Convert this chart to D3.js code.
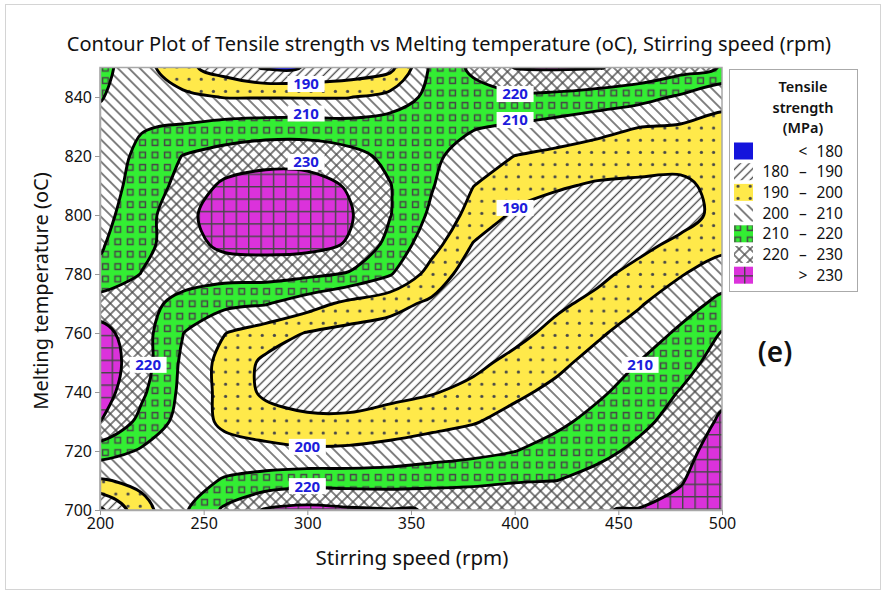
<!DOCTYPE html>
<html>
<head>
<meta charset="utf-8">
<script src="https://cdn.jsdelivr.net/npm/d3@7/dist/d3.min.js"></script>
<style>
  body { margin: 0; background: #fff; }
  text { font-family: 'Noto Sans', 'Open Sans', sans-serif; }
</style>
</head>
<body>
<div id="chart"></div>
<script>
// surface: one row per melting temperature, one column per stirring speed
const speeds = [200, 220, 240, 260, 280, 300, 320, 340, 360, 380, 400, 420, 440, 460, 480, 500]
const temps = [850, 840, 830, 820, 810, 800, 790, 780, 770, 760, 750, 740, 730, 720, 710, 700]
const strength = [
  [213, 204, 192.5, 185.6, 179, 180.2, 183, 187, 212, 222, 230.3, 231, 230.4, 228, 224, 219.5],
  [210.6, 204.5, 202.4, 199.6, 199.5, 199.4, 199.6, 203.5, 213, 216.2, 218, 217.7, 215.8, 213.4, 208.6, 202],
  [207, 209.5, 210.7, 213.3, 214.5, 214.8, 214, 215.5, 214, 210.7, 209, 206.5, 203.5, 200.2, 199.2, 198],
  [206, 211.6, 220.3, 224, 226.5, 226.3, 222.9, 217.8, 211.8, 205.8, 199.9, 197.5, 195.1, 193.8, 193.6, 195],
  [206, 213.2, 223.5, 231.8, 234, 233.5, 229.2, 220.3, 210.7, 200.2, 194.3, 191, 189, 188.5, 188, 193],
  [207, 215.2, 228, 233.5, 235, 234.5, 231.2, 220.3, 208.2, 196.3, 188.5, 186, 184.5, 184, 185.5, 193.5],
  [209, 217, 225.6, 232.5, 233.5, 233, 229.3, 216.9, 203.8, 189.5, 185, 183.5, 183, 187, 192.7, 197],
  [212, 220.3, 225, 223.3, 223.6, 222.2, 219.2, 210.8, 196, 184.5, 183, 184, 187.5, 193.5, 199.3, 205.4],
  [224.8, 224, 216.5, 212.7, 210.7, 204.5, 197.4, 193.1, 188.3, 183.5, 184, 188, 192.8, 199, 205.9, 212.5],
  [233.5, 223.9, 210.2, 200.3, 194.8, 189.5, 187, 186, 184, 183.5, 187, 192.9, 198.5, 204.6, 211.7, 220.5],
  [236, 224.5, 208.2, 196.6, 188, 185.5, 185, 184.5, 184.5, 187.5, 192.7, 197.5, 203.6, 210.2, 216.2, 224],
  [235, 221.8, 207.6, 196.9, 188, 186.5, 186.5, 187.5, 189.3, 192.7, 197.9, 202.5, 208.4, 214.1, 220.5, 227.5],
  [230.1, 217.3, 206.4, 197.9, 194.8, 191.6, 191.5, 193.7, 196.6, 199.2, 203.6, 207.9, 213, 217.9, 223.3, 231.5],
  [215, 208.9, 205, 204.1, 202.5, 201.6, 202, 203.6, 205.5, 207.4, 209.8, 213.7, 217.5, 222, 225.5, 236],
  [199, 202.5, 205.7, 210.8, 213.7, 215.7, 215.6, 215.5, 216.6, 217.5, 219.2, 219.9, 223.1, 226.2, 229, 239],
  [178, 196.4, 208.3, 221.7, 231, 233, 231.5, 230.6, 229.7, 229.5, 229.5, 229.6, 229.8, 230.3, 234, 241]
]

const levels = [180, 190, 200, 210, 220, 230]
const speedTicks = [200, 250, 300, 350, 400, 450, 500]
const tempTicks = [700, 720, 740, 760, 780, 800, 820, 840]
const legendTitle = ['Tensile', 'strength', '(MPa)']

// labels sitting on the contour lines
const lineLabels = [
  {level: 190, speed: 299.4, temp: 844.4},
  {level: 210, speed: 299.4, temp: 834.4},
  {level: 230, speed: 299.4, temp: 818},
  {level: 220, speed: 400.2, temp: 841},
  {level: 210, speed: 400.2, temp: 832.2},
  {level: 190, speed: 400.2, temp: 802.4},
  {level: 220, speed: 223.2, temp: 749.2},
  {level: 210, speed: 460.5, temp: 749.2},
  {level: 200, speed: 300, temp: 721.4},
  {level: 220, speed: 300, temp: 708.1}
]

const svg = d3.select('#chart').append('svg').attr('width', 884).attr('height', 593)

const x = d3.scaleLinear().domain([200, 500]).range([100, 722])
const y = d3.scaleLinear().domain([700, 850]).range([510, 67.5])

// fill patterns, one per band (lowest band is plain blue)
const ink = '#474747'
const defs = svg.append('defs')
const hatch = (id, angle, gap, cross) => {
  const p = defs.append('pattern')
    .attr('id', id)
    .attr('patternUnits', 'userSpaceOnUse')
    .attr('width', gap)
    .attr('height', gap)
    .attr('patternTransform', `rotate(${angle})`)
  p.append('rect').attr('width', gap).attr('height', gap).attr('fill', '#fff')
  p.append('line')
    .attr('x1', gap / 2).attr('y1', -1).attr('x2', gap / 2).attr('y2', gap + 1)
    .attr('stroke', ink).attr('stroke-width', 1.35)
  if (cross) {
    p.append('line')
      .attr('x1', -1).attr('y1', gap / 2).attr('x2', gap + 1).attr('y2', gap / 2)
      .attr('stroke', ink).attr('stroke-width', 1.35)
  }
}
hatch('p180', 45, 6.2)
hatch('p200', -45, 7.8)
hatch('p220', 45, 7.8, true)

const dots = defs.append('pattern').attr('id', 'p190')
  .attr('patternUnits', 'userSpaceOnUse').attr('width', 12.2).attr('height', 12.2)
dots.append('rect').attr('width', 12.2).attr('height', 12.2).attr('fill', '#ffe94a')
dots.append('circle').attr('cx', 6).attr('cy', 6).attr('r', 1.6).attr('fill', ink)

const squares = defs.append('pattern').attr('id', 'p210')
  .attr('patternUnits', 'userSpaceOnUse').attr('width', 12.4).attr('height', 12.4)
squares.append('rect').attr('width', 12.4).attr('height', 12.4).attr('fill', '#33ee33')
squares.append('rect').attr('x', 3.4).attr('y', 3.4).attr('width', 5.6).attr('height', 5.6)
  .attr('fill', 'none').attr('stroke', ink).attr('stroke-width', 1.5)

const grid = defs.append('pattern').attr('id', 'p230')
  .attr('patternUnits', 'userSpaceOnUse').attr('width', 12.4).attr('height', 12.4)
grid.append('rect').attr('width', 12.4).attr('height', 12.4).attr('fill', '#db32db')
grid.append('path').attr('d', 'M0,0.7H12.4M0.7,0V12.4')
  .attr('stroke', ink).attr('stroke-width', 1.4)

const bandFill = ['#1414dc', 'url(#p180)', 'url(#p190)', 'url(#p200)', 'url(#p210)', 'url(#p220)', 'url(#p230)']

defs.append('clipPath').attr('id', 'plotClip')
  .append('rect').attr('x', 100).attr('y', 67.5).attr('width', 622).attr('height', 442.5)

// pad the grid by one cell so the closing edges of each polygon fall outside the clip
const nx = speeds.length + 2
const ny = temps.length + 2
const padded = []
for (let j = 0; j < ny; j++) {
  for (let i = 0; i < nx; i++) {
    const r = Math.min(Math.max(j - 1, 0), temps.length - 1)
    const c = Math.min(Math.max(i - 1, 0), speeds.length - 1)
    padded.push(strength[r][c])
  }
}
const contours = d3.contours().size([nx, ny]).thresholds(levels)(padded)

const stepX = speeds[1] - speeds[0]
const stepY = temps[1] - temps[0]
const ringLine = d3.line()
  .x(p => x(speeds[0] + (p[0] - 1.5) * stepX))
  .y(p => y(temps[0] + (p[1] - 1.5) * stepY))
  .curve(d3.curveCatmullRomClosed.alpha(0.5))
const pathOf = c => c.coordinates
  .map(poly => poly.map(ring => ringLine(ring.slice(0, -1))).join(''))
  .join('')

const plot = svg.append('g').attr('clip-path', 'url(#plotClip)')
plot.append('rect')
  .attr('x', 100).attr('y', 67.5).attr('width', 622).attr('height', 442.5)
  .attr('fill', bandFill[0])

plot.selectAll('path.band')
  .data(contours)
  .enter()
  .append('path')
  .attr('class', 'band')
  .attr('d', pathOf)
  .attr('fill', (d, i) => bandFill[i + 1])
  .attr('fill-rule', 'evenodd')

plot.selectAll('path.line')
  .data(contours)
  .enter()
  .append('path')
  .attr('class', 'line')
  .attr('d', pathOf)
  .attr('fill', 'none')
  .attr('stroke', '#000')
  .attr('stroke-width', 2.9)
  .attr('stroke-linejoin', 'round')

// contour value labels
const labels = plot.selectAll('g.lab')
  .data(lineLabels)
  .enter()
  .append('g')
  .attr('class', 'lab')
  .attr('transform', d => `translate(${x(d.speed)},${y(d.temp)})`)
labels.append('rect')
  .attr('x', -18.5).attr('y', -8).attr('width', 37).attr('height', 16)
  .attr('fill', '#fff')
labels.append('text')
  .attr('text-anchor', 'middle')
  .attr('dy', '0.36em')
  .attr('font-size', 15)
  .attr('font-weight', 'bold')
  .attr('fill', '#1c1cdc')
  .text(d => d.level)

// frame and axes
svg.append('rect')
  .attr('x', 100).attr('y', 67.5).attr('width', 622).attr('height', 442.5)
  .attr('fill', 'none').attr('stroke', '#a8a8a8').attr('stroke-width', 1.5)

const xAxis = svg.append('g')
  .attr('transform', 'translate(0,510)')
  .call(d3.axisBottom(x).tickValues(speedTicks).tickSize(5).tickSizeOuter(0))
const yAxis = svg.append('g')
  .attr('transform', 'translate(100,0)')
  .call(d3.axisLeft(y).tickValues(tempTicks).tickSize(5).tickSizeOuter(0))
;[xAxis, yAxis].forEach(a => {
  a.select('.domain').attr('stroke', '#a8a8a8').attr('stroke-width', 1.5)
  a.selectAll('.tick line').attr('stroke', '#999')
  a.selectAll('.tick text')
    .attr('font-family', "'Noto Sans', sans-serif")
    .attr('font-size', 16)
    .attr('fill', '#111')
})

svg.append('text')
  .attr('x', 449).attr('y', 51)
  .attr('text-anchor', 'middle')
  .attr('font-size', 20)
  .attr('fill', '#111')
  .text('Contour Plot of Tensile strength vs Melting temperature (oC), Stirring speed (rpm)')

svg.append('text')
  .attr('x', 412).attr('y', 565)
  .attr('text-anchor', 'middle')
  .attr('font-size', 20.5)
  .attr('fill', '#111')
  .text('Stirring speed (rpm)')

svg.append('text')
  .attr('transform', 'translate(48,291) rotate(-90)')
  .attr('text-anchor', 'middle')
  .attr('font-size', 20)
  .attr('fill', '#111')
  .text('Melting temperature (oC)')

svg.append('text')
  .attr('x', 775).attr('y', 362)
  .attr('text-anchor', 'middle')
  .attr('font-size', 28)
  .attr('font-weight', 600)
  .attr('fill', '#111')
  .text('(e)')

// legend
const legend = svg.append('g')
legend.append('rect')
  .attr('x', 729.5).attr('y', 69.5).attr('width', 128).attr('height', 222)
  .attr('fill', '#fff').attr('stroke', '#aaa')
legend.selectAll('text.title')
  .data(legendTitle)
  .enter()
  .append('text')
  .attr('class', 'title')
  .attr('x', 803)
  .attr('y', (d, i) => 92 + i * 20.5)
  .attr('text-anchor', 'middle')
  .attr('font-size', 14.5)
  .attr('font-weight', 600)
  .attr('fill', '#111')
  .text(d => d)

const bands = [null].concat(levels).map((lo, i) => ({lo: lo, hi: i < levels.length ? levels[i] : null}))
const items = legend.selectAll('g.item')
  .data(bands)
  .enter()
  .append('g')
  .attr('class', 'item')
  .attr('transform', (d, i) => `translate(0,${151 + i * 20.7})`)
items.append('rect')
  .attr('x', 734).attr('y', -8.5).attr('width', 19).attr('height', 17)
  .attr('fill', (d, i) => bandFill[i])
items.append('text')
  .attr('x', 789).attr('dy', '0.36em')
  .attr('text-anchor', 'end')
  .attr('font-size', 15.5).attr('fill', '#111')
  .text(d => d.lo !== null && d.hi !== null ? d.lo : '')
items.append('text')
  .attr('x', 803).attr('dy', '0.36em')
  .attr('text-anchor', 'middle')
  .attr('font-size', 15.5).attr('fill', '#111')
  .text(d => d.lo === null ? '<' : d.hi === null ? '>' : '–')
items.append('text')
  .attr('x', 843).attr('dy', '0.36em')
  .attr('text-anchor', 'end')
  .attr('font-size', 15.5).attr('fill', '#111')
  .text(d => d.hi === null ? d.lo : d.hi)

// outer border of the figure
svg.append('rect')
  .attr('x', 5.5).attr('y', 4.5).attr('width', 875).attr('height', 585)
  .attr('fill', 'none').attr('stroke', '#d4d4d4')
</script>
</body>
</html>
